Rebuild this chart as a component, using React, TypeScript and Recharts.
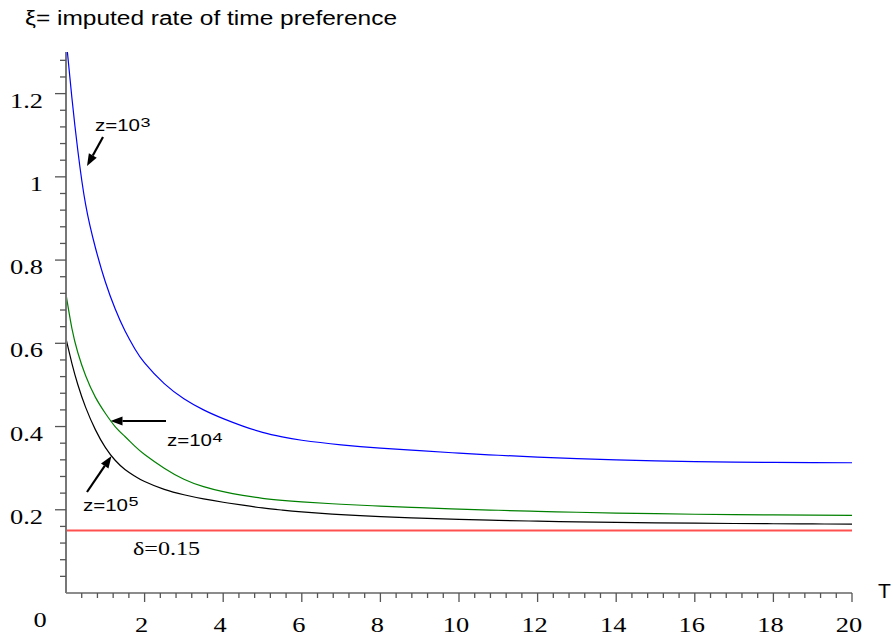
import React from 'react';
import { LineChart, Line, XAxis, YAxis, ReferenceLine, Customized } from 'recharts';

// T grid (horizontal axis)
const T = [0, 0.15, 0.3, 0.5, 0.75, 1.0, 1.25, 1.5, 1.75, 2.0, 2.5, 3.0, 3.5, 4.0, 4.5, 5, 5.5, 6, 7, 8, 9, 10, 11, 12, 13, 14, 15, 16, 17, 18, 19, 20];
// xi for z = 10^3 (blue)
const xiZ3 = [1.334, 1.19, 1.064, 0.933, 0.829, 0.748, 0.683, 0.63, 0.587, 0.553, 0.503, 0.467, 0.44, 0.419, 0.401, 0.386, 0.375, 0.367, 0.356, 0.348, 0.342, 0.336, 0.331, 0.3265, 0.3228, 0.3198, 0.3175, 0.3158, 0.3146, 0.3138, 0.3133, 0.313];
// xi for z = 10^4 (green)
const xiZ4 = [0.718, 0.636, 0.578, 0.522, 0.47, 0.432, 0.4, 0.376, 0.353, 0.333, 0.3, 0.2735, 0.2555, 0.2435, 0.2345, 0.2275, 0.2225, 0.2188, 0.2133, 0.2088, 0.205, 0.2017, 0.1988, 0.1962, 0.194, 0.1921, 0.1905, 0.1892, 0.1882, 0.1875, 0.187, 0.1867];
// xi for z = 10^5 (black)
const xiZ5 = [0.611, 0.552, 0.501, 0.446, 0.392, 0.35, 0.319, 0.297, 0.281, 0.268, 0.249, 0.236, 0.226, 0.218, 0.211, 0.2045, 0.1992, 0.1948, 0.1882, 0.1833, 0.1797, 0.1768, 0.1745, 0.1726, 0.171, 0.1697, 0.1686, 0.1677, 0.167, 0.1664, 0.1659, 0.1655];
const DELTA = 0.15;

const xMajorTicks = [2, 4, 6, 8, 10, 12, 14, 16, 18, 20];
const xTickLabels = ['2', '4', '6', '8', '10', '12', '14', '16', '18', '20'];
const yMajorTicks = [0.2, 0.4, 0.6, 0.8, 1.0, 1.2];
const yTickLabels = ['0.2', '0.4', '0.6', '0.8', '1', '1.2'];

const data = T.map((t, i) => ({ T: t, z3: xiZ3[i], z4: xiZ4[i], z5: xiZ5[i] }));

const xTicks: number[] = [];
for (let k = 1; k <= 50; k++) xTicks.push(Math.round(k * 0.4 * 1000) / 1000);
const yTicks: number[] = [];
for (let k = 1; k <= 32; k++) yTicks.push(Math.round(k * 0.04 * 1000) / 1000);

const W = 893, H = 639;
const AXIS_X = 66;
const AXIS_Y = 593;
const Y_AXIS_W = 60;
const X_AXIS_H = 40;
const M = { top: 52, right: 41, bottom: H - AXIS_Y - X_AXIS_H, left: AXIS_X - Y_AXIS_W };
const SERIF = '"Liberation Serif", "Times New Roman", serif';
const SANS = '"Liberation Sans", Arial, sans-serif';
const TICK_COLOR = '#555';

const near = (a: number, b: number) => Math.abs(a - b) < 1e-6;

function XTick(props: any) {
  const { x, payload } = props;
  const v = payload.value;
  const idx = xMajorTicks.findIndex((m) => near(m, v));
  const major = idx >= 0;
  return (
    <g>
      <line x1={x} x2={x} y1={AXIS_Y} y2={AXIS_Y + (major ? 9 : 5)} stroke={TICK_COLOR} strokeWidth={1.3} />
      {major && (
        <text transform={`translate(${x - 3}, 632) scale(1.2, 1)`} textAnchor="middle" fontFamily={SERIF} fontSize={22} fill="#000">
          {xTickLabels[idx]}
        </text>
      )}
    </g>
  );
}

function YTick(props: any) {
  const { y, payload } = props;
  const v = payload.value;
  const idx = yMajorTicks.findIndex((m) => near(m, v));
  const major = idx >= 0;
  return (
    <g>
      <line x1={AXIS_X - (major ? 11 : 6)} x2={AXIS_X} y1={y} y2={y} stroke={TICK_COLOR} strokeWidth={1.3} />
      {major && (
        <text transform={`translate(43, ${y + 14}) scale(1.2, 1)`} textAnchor="end" fontFamily={SERIF} fontSize={22} fill="#000">
          {yTickLabels[idx]}
        </text>
      )}
    </g>
  );
}

function Arrow({ x1, y1, x2, y2 }: { x1: number; y1: number; x2: number; y2: number }) {
  const dx = x2 - x1, dy = y2 - y1;
  const len = Math.sqrt(dx * dx + dy * dy);
  const ux = dx / len, uy = dy / len;
  const hl = 12, hw = 4.5;
  const bx = x2 - ux * hl, by = y2 - uy * hl;
  const px = -uy, py = ux;
  return (
    <g>
      <line x1={x1} y1={y1} x2={bx} y2={by} stroke="#000" strokeWidth={2.2} />
      <polygon points={`${x2},${y2} ${bx + px * hw},${by + py * hw} ${bx - px * hw},${by - py * hw}`} fill="#000" />
    </g>
  );
}

function ZLabel({ x, y, exp }: { x: number; y: number; exp: string }) {
  return (
    <g fontFamily={SANS} fill="#000">
      <text x={x} y={y} fontSize={16} textLength={45} lengthAdjust="spacingAndGlyphs">z=10</text>
      <text x={x + 45.5} y={y - 4.5} fontSize={12.5} textLength={10} lengthAdjust="spacingAndGlyphs">{exp}</text>
    </g>
  );
}

function Annotations() {
  return (
    <g>
      <text x={25} y={25} fontFamily={SANS} fontSize={20} textLength={372} lengthAdjust="spacingAndGlyphs" fill="#000">
        ξ= imputed rate of time preference
      </text>
      <text x={878} y={598} fontFamily={SANS} fontSize={21} fill="#000">T</text>
      <text transform={`translate(40, 627) scale(1.2, 1)`} textAnchor="middle" fontFamily={SERIF} fontSize={22} fill="#000">0</text>
      <ZLabel x={95} y={131} exp="3" />
      <Arrow x1={103} y1={137} x2={87} y2={166} />
      <ZLabel x={167} y={446} exp="4" />
      <Arrow x1={166} y1={421} x2={110.5} y2={421} />
      <ZLabel x={83} y={510.5} exp="5" />
      <Arrow x1={87} y1={492} x2={111.5} y2={456} />
      <text x={133} y={555} fontFamily={SERIF} fontSize={18} textLength={67} lengthAdjust="spacingAndGlyphs" fill="#000">δ=0.15</text>
    </g>
  );
}

export default function App() {
  return (
    <div style={{ position: 'absolute', left: 0, top: 0, width: W, height: H, background: '#fff' }}>
      <LineChart width={W} height={H} data={data} margin={M}>
        <XAxis
          dataKey="T"
          type="number"
          domain={[0, 20]}
          ticks={xTicks}
          interval={0}
          height={X_AXIS_H}
          tickSize={0}
          tickMargin={0}
          tickLine={false}
          tick={<XTick />}
          axisLine={{ stroke: '#666', strokeWidth: 1.6 }}
          allowDataOverflow
        />
        <YAxis
          type="number"
          domain={[0, 1.3]}
          ticks={yTicks}
          interval={0}
          width={Y_AXIS_W}
          tickSize={0}
          tickMargin={0}
          tickLine={false}
          tick={<YTick />}
          axisLine={{ stroke: '#777', strokeWidth: 2 }}
          allowDataOverflow
        />
        <ReferenceLine y={DELTA} stroke="#ff5050" strokeWidth={2} />
        <Line type="natural" dataKey="z3" stroke="#0000ff" strokeWidth={1.2} dot={false} activeDot={false} isAnimationActive={false} />
        <Line type="natural" dataKey="z4" stroke="#008000" strokeWidth={1.2} dot={false} activeDot={false} isAnimationActive={false} />
        <Line type="natural" dataKey="z5" stroke="#000000" strokeWidth={1.2} dot={false} activeDot={false} isAnimationActive={false} />
        <Customized component={<Annotations />} />
      </LineChart>
    </div>
  );
}
